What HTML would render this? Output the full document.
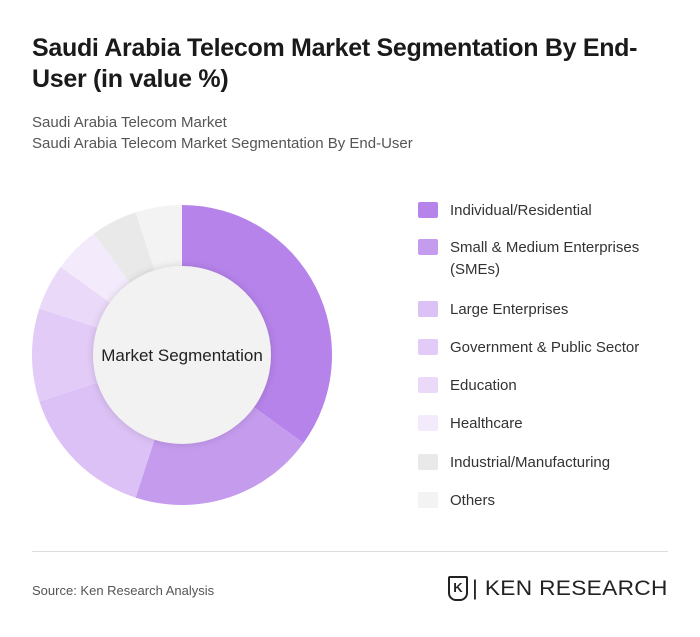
<!DOCTYPE html>
<html><head><meta charset="utf-8"><style>
body{margin:0;background:#fff;font-family:"Liberation Sans",sans-serif;}
#wrap{position:relative;width:700px;height:637px;overflow:hidden;}
.t{position:absolute;left:32px;font-weight:bold;font-size:25px;color:#1a1a1a;line-height:31px;letter-spacing:-0.3px}
.sub{position:absolute;left:32px;font-size:15px;color:#555;}
.leg{position:absolute;left:418px;font-size:15px;color:#333;}
.sw{position:absolute;left:0;top:1px;width:20px;height:16px;border-radius:2px}
.lt{position:absolute;left:32px;white-space:nowrap;line-height:22px;top:-1px}
</style></head><body>
<div id="wrap">
<div class="t" style="top:33px">Saudi Arabia Telecom Market Segmentation By End-<br>User (in value %)</div>
<div class="sub" style="top:114px">Saudi Arabia Telecom Market</div>
<div class="sub" style="top:135px">Saudi Arabia Telecom Market Segmentation By End-User</div>
<svg id="donut" width="700" height="637" style="position:absolute;left:0;top:0">
<defs><filter id="sh" x="-20%" y="-20%" width="140%" height="140%"><feDropShadow dx="0" dy="0" stdDeviation="4" flood-color="#000" flood-opacity="0.15"/></filter></defs>
<g id="slices"></g>
<circle cx="182" cy="355" r="89" fill="#f2f2f2" filter="url(#sh)"/>
<text x="182" y="361" text-anchor="middle" font-size="17" fill="#222" font-family="Liberation Sans, sans-serif">Market Segmentation</text>
</svg>
<div id="legend"></div>
<div style="position:absolute;left:32px;top:551px;width:636px;height:1px;background:#ddd"></div>
<div style="position:absolute;left:32px;top:583px;font-size:13px;color:#555">Source: Ken Research Analysis</div>
<div style="position:absolute;left:448px;top:576px;width:20px;height:25px;border:2px solid #222;border-radius:2px 2px 8px 8px;box-sizing:border-box;font-size:13px;font-weight:bold;text-align:center;line-height:19px;color:#222">K</div>
<div style="position:absolute;left:472px;top:577px;font-size:21px;color:#222;letter-spacing:0.3px;transform:scaleX(1.08);transform-origin:left;white-space:nowrap">| KEN RESEARCH</div>
</div>
<script>
const categories=["Individual/Residential","Small & Medium Enterprises (SMEs)","Large Enterprises","Government & Public Sector","Education","Healthcare","Industrial/Manufacturing","Others"];
const values=[35,20,15,10,5,5,5,5];
const colors=["#b683ea","#c59bee","#dbc1f5","#e2cbf7","#ead9f9","#f3ebfc","#e9e9e9","#f3f3f3"];
const cx=182,cy=355,R=150;
const total=values.reduce((a,b)=>a+b,0);
const g=document.getElementById('slices');
let a0=0;
function pt(a,r){return [cx+r*Math.sin(a),cy-r*Math.cos(a)];}
values.forEach((v,i)=>{
 const a1=a0+v/total*2*Math.PI;
 const p0=pt(a0,R),p1=pt(a1,R);
 const p=document.createElementNS('http://www.w3.org/2000/svg','path');
 p.setAttribute('d',`M${cx},${cy}L${p0[0]},${p0[1]}A${R},${R} 0 ${a1-a0>Math.PI?1:0} 1 ${p1[0]},${p1[1]}Z`);
 p.setAttribute('fill',colors[i]);
 
 
 g.appendChild(p);
 a0=a1;
});
const legTops=[201,238,300,338,376,414,453,491];
const L=document.getElementById('legend');
categories.forEach((c,i)=>{
 const d=document.createElement('div');
 d.className='leg';d.style.top=legTops[i]+'px';
 
 
 const label=c==="Small & Medium Enterprises (SMEs)"?"Small &amp; Medium Enterprises<br>(SMEs)":c.replace('&','&amp;');
 d.innerHTML=`<div class="sw" style="background:${colors[i]}"></div><div class="lt">${label}</div>`;
 L.appendChild(d);
});
</script>
</body></html>
